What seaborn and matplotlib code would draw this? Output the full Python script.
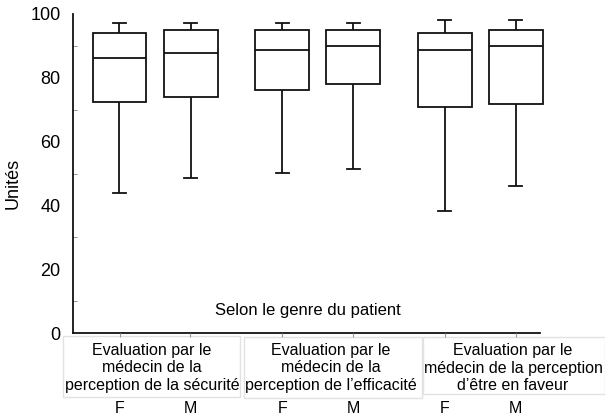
#!/usr/bin/env python3

import seaborn as sns
import pandas as pd
import numpy as np
import matplotlib.pyplot as plt
from matplotlib.patches import Rectangle

# five-number summaries: low whisker, Q1, median, Q3, high whisker
groups = ["securite", "efficacite", "faveur"]
group_labels = [
    "Evaluation par le\nmédecin de la\nperception de la sécurité",
    "Evaluation par le\nmédecin de la\nperception de l\u2019efficacité",
    "Evaluation par le\nmédecin de la perception\nd\u2019être en faveur",
]
sexes = ["F", "M"]
securite_F = [44, 72.4, 86.1, 94, 97.2]
securite_M = [48.7, 74, 87.8, 95.1, 97.2]
efficacite_F = [50.2, 76.2, 88.8, 95.1, 97.2]
efficacite_M = [51.3, 78.1, 89.9, 95.1, 97.2]
faveur_F = [38.1, 70.8, 88.8, 94, 98.2]
faveur_M = [46.1, 71.9, 89.9, 95.1, 98.2]

summaries = {
    ("securite", "F"): securite_F, ("securite", "M"): securite_M,
    ("efficacite", "F"): efficacite_F, ("efficacite", "M"): efficacite_M,
    ("faveur", "F"): faveur_F, ("faveur", "M"): faveur_M,
}
rows = []
for (g, s), vals in summaries.items():
    for v in vals:
        rows.append({"groupe": g, "sexe": s, "valeur": v})
df = pd.DataFrame(rows)

plt.rcParams['font.family'] = ['Liberation Sans', 'DejaVu Sans']
fig = plt.figure(figsize=(6.05, 4.2), dpi=100)
ax = fig.add_axes([73 / 605, 87 / 420, 467 / 605, 319 / 420])

sns.boxplot(data=df, x="groupe", y="valeur", hue="sexe", order=groups, hue_order=sexes,
            palette={"F": "white", "M": "white"}, linecolor="#111111", linewidth=1.3,
            whis=(0, 100), width=0.873, gap=0.24, capwidths=0.08, legend=False, ax=ax)

# last box pokes a little past the end of the x axis in the original
for art in ax.patches + ax.lines:
    art.set_clip_on(False)

ax.set_xlim(-0.504, 2.366)
ax.set_ylim(0, 100)
ax.set_yticks(range(0, 101, 20))
ax.set_yticks(range(10, 100, 20), minor=True)
ax.tick_params(axis="y", which="major", length=0, pad=9, labelsize=13)
ax.tick_params(axis="y", which="minor", direction="in", length=3, color="#888888")

# F / M under each box
pos = []
for i in range(len(groups)):
    pos += [i - 0.218, i + 0.218]
ax.set_xticks(pos)
ax.set_xticklabels(sexes * len(groups), fontsize=11.5)
ax.tick_params(axis="x", length=3, color="#999999", pad=46)

ax.set_xlabel("")
ax.set_ylabel("Unités", fontsize=13)
ax.yaxis.set_label_coords(-0.11, 0.47)
for s in ["top", "right"]:
    ax.spines[s].set_visible(False)
for s in ["left", "bottom"]:
    ax.spines[s].set_linewidth(1.3)
    ax.spines[s].set_color("#111111")

ax.text(0.503, 0.072, "Selon le genre du patient", transform=ax.transAxes,
        ha="center", va="center", fontsize=12)

# header cells holding the group names; they sit over the y "0" but under the F/M labels
ax.yaxis.set_zorder(2)
ax.xaxis.set_zorder(3)
cells = [(63, 240, 336, 397), (244, 422, 337, 398), (423, 605, 337, 394)]
text_x = [152, 331, 513]
for (x0, x1, y0, y1), tx, lab in zip(cells, text_x, group_labels):
    ax.add_artist(Rectangle((x0 / 605, 1 - y1 / 420), (x1 - x0) / 605, (y1 - y0) / 420,
                            transform=fig.transFigure, facecolor="white", clip_on=False,
                            edgecolor="#e2e2e2", linewidth=1, zorder=2.6))
    ax.text(tx / 605, 1 - 368 / 420, lab, transform=fig.transFigure, ha="center",
            va="center", fontsize=11.5, linespacing=1.2, zorder=3.5, clip_on=False)

plt.savefig("out.png", dpi=100)
